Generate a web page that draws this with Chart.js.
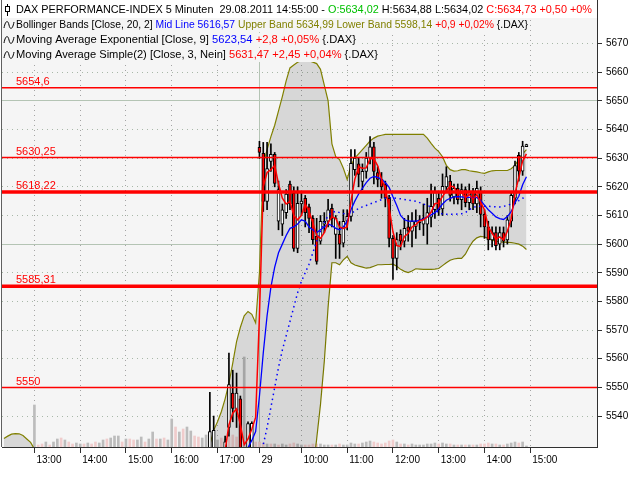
<!DOCTYPE html>
<html>
<head>
<meta charset="utf-8">
<script src="https://cdn.jsdelivr.net/npm/chart.js@4.4.0/dist/chart.umd.min.js"></script>
<style>
    html, body { margin: 0; padding: 0; background: #fff; }
</style>
</head>
<body>
<canvas id="myGraph" width="640" height="480"></canvas>
<script>
// Short name for empty slots
var _ = null;

function none(n) {
    return Array(n).fill(null);
}

// 5 minute slots "HH:MM" from .. to
function fiveMinutes(from, to) {
    var toMin = function (t) { return +t.slice(0, 2) * 60 + +t.slice(3); };
    var pad = function (n) { return (n < 10 ? '0' : '') + n; };
    var out = [];
    for (var m = toMin(from); m <= toMin(to); m += 5) {
        out.push(pad(Math.floor(m / 60)) + ':' + pad(m % 60));
    }
    return out;
}

// Categories: 26.08 afternoon, 29.08 morning, free slots
var dayOne = fiveMinutes('12:20', '17:50');
var dayTwo = fiveMinutes('09:05', '14:55');
var future = fiveMinutes('15:00', '16:25');
var labels = dayOne.concat(dayTwo, future);
var dayBreak = dayOne.length;

// Price axis range
var yMin = 5529.2;
var yMax = 5685.2;

// Horizontal levels
var levels = [5654.6, 5630.25, 5618.22, 5585.31, 5550];

// Candles (first 54 slots are below the visible range)
var open = none(54).concat([5525, 5524, _, _, 5527, 5536,
    5548, 5542, 5546, _, 5527, 5528, _, 5633.8, 5631.7, 5614.9,
    5628.9, 5631.3, 5608, 5607, 5611, 5621, 5617.7, 5598.5, 5614, 5616,
    5613, 5609, 5602.7, 5601, 5607, 5608, 5612.5, 5603.4, 5603.4, 5600.3,
    5608, 5609.7, 5626, 5628, 5621.9, 5625.4, 5630, 5634, 5625, 5622.6,
    5620.8, 5616, 5602, 5595, 5603.4, 5601, 5606, 5604.5, 5606.2, 5607.5,
    5607, 5607, 5609.4, 5612, 5616, 5612.3, 5620, 5622, 5616.5, 5619.5,
    5615.5, 5619, 5614.5, 5618.5, 5614, 5618, 5610.4, 5606, 5601.5, 5604,
    5600, 5604, 5601.5, 5608, 5616, 5631, 5625.5, 5634.02]);

var high = none(54).concat([5548.3, 5540, _, _, 5533, 5562,
    5556, 5555, 5547, _, 5538, 5538, _, 5635.9, 5635.5, 5635.5,
    5635, 5632, 5622, 5614, 5619, 5622, 5620, 5620, 5618, 5617,
    5614, 5610, 5609, 5610, 5611, 5615.6, 5614, 5610, 5607.9, 5612,
    5612, 5633, 5633, 5630, 5628, 5632, 5637.5, 5635.5, 5627, 5625,
    5622, 5617, 5603, 5604, 5605, 5609, 5610, 5611, 5612, 5610,
    5614, 5616, 5621, 5620, 5618, 5624.5, 5627, 5624, 5621, 5621,
    5621, 5620, 5621, 5619.5, 5622, 5620, 5612, 5608, 5606, 5606,
    5606, 5606, 5610, 5618, 5629, 5632, 5635.9, 5634.88]);

var low = none(54).concat([5518, 5520, _, _, 5522, 5533,
    5538, 5536, 5518, _, 5524, 5526, _, 5629.9, 5611.4, 5612,
    5625.4, 5620, 5605, 5603, 5609, 5612, 5597.5, 5597, 5610, 5606,
    5604, 5600, 5593, 5600, 5604, 5606, 5606, 5595, 5595, 5599,
    5605, 5608, 5624, 5620, 5619, 5623, 5628, 5621, 5620, 5616,
    5613, 5599, 5587.7, 5591, 5598, 5599, 5601, 5599, 5602, 5605,
    5603, 5600, 5606, 5609, 5610, 5610, 5618, 5615, 5614, 5614,
    5612, 5613, 5612, 5612, 5611, 5606, 5602, 5598, 5599, 5598,
    5598, 5599, 5600, 5606, 5614, 5622, 5624, 5634.02]);

var close = none(54).concat([5534.6, 5535, _, _, 5531, 5551,
    5542.7, 5548, 5527, _, 5537.4, 5537.5, _, 5632, 5614.9, 5626.4,
    5631.3, 5621.2, 5619, 5612, 5617.5, 5614, 5598.5, 5614.2, 5615, 5611,
    5609, 5601.6, 5594, 5608, 5608, 5612, 5609, 5609, 5600, 5608,
    5609.7, 5628.2, 5630, 5624.3, 5625.4, 5630, 5634, 5625.4, 5622.6, 5620,
    5616, 5602, 5595, 5601.6, 5601, 5605.5, 5604.5, 5608, 5607.9, 5608.5,
    5609, 5611, 5613.2, 5618, 5612, 5620.2, 5623.6, 5617, 5619.5, 5615.5,
    5619, 5614.5, 5618.5, 5614, 5619.5, 5610.4, 5606, 5601.5, 5604, 5599.5,
    5604, 5601, 5608.5, 5617, 5627.38, 5625.45, 5634.23, 5634.73]);

// Bollinger Bands [Close, 20, 2]
var upperBand = [5532.2, 5533.0, 5533.7, 5533.9, 5533.8, 5533.2, 5532.0, 5530.8, 5528.5, 5524]
    .concat(none(43), [5526, 5530, 5535, 5538, 5541.5, 5546, 5551.5,
    5558.5, 5566, 5571, 5575, 5576.5, 5575.5, 5572.5, 5590, 5628, 5633,
    5637.5, 5641.5, 5646.5, 5651.5, 5657, 5661.5, 5662.5, 5663.5, 5664, 5664,
    5664, 5663.5, 5663, 5661, 5655.5, 5650, 5635, 5630.5, 5629.5, 5626.5,
    5622.6, 5627.5, 5630, 5631.5, 5633, 5634.5, 5636, 5637, 5637.7, 5638,
    5638.3, 5638.3, 5638.3, 5638.3, 5638.3, 5638.3, 5638.3, 5638.3, 5638.3, 5638.3,
    5638.3, 5637, 5635.2, 5633.5, 5632.3, 5630.5, 5627.5, 5626, 5625.5, 5625.6,
    5626, 5626, 5625.6, 5625.4, 5625.2, 5624.9, 5624.7, 5625.2, 5625.6, 5625.7,
    5625.7, 5625.7, 5625.7, 5626.3, 5627.5, 5629.6, 5631.5, 5633]);

var lowerBand = [5496, 5495, 5494, 5494, 5494, 5494, 5494, 5494, 5493, 5493]
    .concat(none(43), [5497, 5496, 5495, 5495, 5494, 5493, 5492,
    5490, 5488, 5487, 5486, 5486, 5487, 5488, 5486, 5483, 5481,
    5479, 5478, 5478, 5479, 5481, 5484, 5488, 5493, 5499, 5505,
    5512, 5520, 5532, 5544, 5559, 5578, 5593.5, 5593.5, 5592.8, 5594.5,
    5595.7, 5593.5, 5592.7, 5592.3, 5592, 5591.6, 5591.8, 5592.3, 5592.8, 5592.8,
    5592.9, 5592.9, 5593, 5592.3, 5591.2, 5590.5, 5590.1, 5590.6, 5591.4, 5591.3,
    5591.2, 5591.2, 5591.2, 5591.3, 5591.5, 5592.5, 5593.5, 5594.4, 5594.8, 5595,
    5595, 5596.5, 5599, 5601, 5602.2, 5602.7, 5602.5, 5602, 5601.4, 5601,
    5600.8, 5600.7, 5600.6, 5600.5, 5600.3, 5600, 5599.3, 5598.14]);

var midLine = none(53).concat([5510, 5511, 5512, 5513, 5514, 5515, 5516,
    5517, 5518, 5519, 5520, 5521, 5522, 5523, 5524, 5530, 5536,
    5543, 5550, 5557, 5563, 5568, 5573, 5578, 5583, 5587, 5590,
    5593, 5597, 5601, 5604.5, 5607.5, 5610, 5611, 5611.5, 5611, 5610.7,
    5610.5, 5610.7, 5611.5, 5612.5, 5613, 5613.5, 5614, 5614.5, 5615, 5615.5,
    5616, 5616.2, 5616.2, 5616, 5615.8, 5615.6, 5615.4, 5615.2, 5615, 5614.5,
    5614, 5613.5, 5613, 5612, 5611, 5610.5, 5610.4, 5610.4, 5610.4, 5610.5,
    5610.6, 5611, 5612, 5612.8, 5613.2, 5613.2, 5613.2, 5613.2, 5613.1, 5613,
    5613, 5613.2, 5613.5, 5614, 5614.6, 5615.2, 5616, 5616.57]);

// Moving Average Exponential [Close, 9]
var ema = none(53).concat([5512, 5515, 5518, 5519, 5520, 5521, 5524,
    5525, 5527, 5527, 5527.5, 5529, 5531.5, 5534.6, 5547, 5562, 5575,
    5585, 5592, 5597, 5600, 5603, 5605.5, 5606, 5607, 5608.5, 5608,
    5606, 5605, 5604, 5605, 5606, 5607, 5606.5, 5605.5, 5605, 5606,
    5608, 5612, 5615, 5617.5, 5619.5, 5621.5, 5623, 5623.6, 5623.3, 5622.6,
    5621.5, 5619.8, 5616.5, 5613.5, 5610, 5608.5, 5608, 5608, 5608, 5608.3,
    5608.8, 5609.5, 5610.2, 5611, 5612.3, 5614, 5615.3, 5616, 5616.5, 5616.6,
    5616.5, 5616.3, 5616.3, 5616.2, 5616.3, 5615.2, 5613.6, 5612, 5610.8, 5609.5,
    5608.9, 5608.6, 5609.6, 5611.3, 5614.5, 5616.7, 5620.74, 5623.54]);

// Moving Average Simple(2) [Close, 3]
var sma = none(53).concat([5520, 5522, 5524, 5525, 5526, 5528, 5537,
    5541, 5542.5, 5537, 5530, 5532, 5535.5, 5539.5, 5575, 5620, 5625,
    5626, 5627.5, 5621, 5616, 5614, 5615, 5610, 5608.5, 5610, 5614,
    5611.5, 5607.5, 5603, 5602, 5604, 5607.5, 5609.5, 5609, 5606, 5605.5,
    5606, 5615, 5622.6, 5627, 5626.5, 5626.6, 5629.8, 5629.8, 5627.3, 5622.7,
    5619.5, 5612.7, 5604.3, 5599.5, 5599.2, 5602.7, 5603.7, 5606, 5606.8, 5608.1,
    5608.5, 5609.5, 5611.1, 5614.1, 5614.4, 5616.7, 5618.6, 5620.3, 5620, 5617.3,
    5618, 5616.3, 5617.3, 5615.7, 5617.3, 5614.6, 5612, 5606, 5603.8, 5601.7,
    5602.5, 5601.5, 5604.5, 5608.8, 5617.6, 5623.3, 5629.0, 5631.47]);

// Volume, up and down bars (relative height)
var volUp = [_, _, _, _, _, _, _, _, 42, _,
    _, 5, _, 5, 8, _, 7, _, _, 4,
    3, _, 4, _, _, 4, 7, _, 9, 11,
    11, _, 8, _, _, 7, 10, _, 8, 15,
    _, 8, _, 7, 28, _, 15, _, 20, 16,
    _, _, 9, 12, 14, 10, 7, _, 8, _,
    _, _, _, 90, 12, 8, _, _, _, 3,
    _, 3, _, 3, 2, _, _, 3, 2, _,
    _, _, _, 3, 2, 2, _, 2, _, 2,
    2, 4, 3, _, 4, 5, 6, _, _, _,
    _, _, _, 5, _, 3, _, 3, 2, 2,
    2, 3, 3, 4, _, 4, 3, _, 2, _,
    2, _, 2, _, 2, _, _, _, 3, _,
    2, _, 3, 4, 5, _, 5, 1];

var volDown = [_, _, _, _, _, _, _, _, _, 2,
    3, _, 2, _, _, 9, _, 5, 3, _,
    _, 3, _, 3, 5, _, _, 8, _, _,
    _, 5, _, 8, 7, _, _, 5, _, _,
    8, _, 9, _, _, 20, _, 18, _, _,
    11, 10, _, _, _, _, _, 9, _, 10,
    12, 10, 8, _, _, _, 5, 5, 4, _,
    3, _, 2, _, _, 3, 4, _, _, 2,
    2, 3, 3, _, _, _, 2, _, 3, _,
    _, _, _, 3, _, _, _, 5, 4, 3,
    4, 6, 7, _, 3, _, 2, _, _, _,
    _, _, _, _, 3, _, _, 3, _, 2,
    _, 2, _, 2, _, 3, 3, 4, _, 3,
    _, 2, _, _, _, 4, _, _];

// Header lines: [text, colour]
var header = [
    [['DAX PERFORMANCE-INDEX 5 Minuten  29.08.2011 14:55:00 - ', '#000'], ['O:5634,02 ', '#00c000'],
     ['H:5634,88 L:5634,02 ', '#000'], ['C:5634,73 +0,50 +0%', '#ff0000']],
    [['Bollinger Bands [Close, 20, 2] ', '#000'], ['Mid Line 5616,57 ', '#0000ff'],
     ['Upper Band 5634,99 Lower Band 5598,14 ', '#808000'], ['+0,9 +0,02% ', '#ff0000'], ['{.DAX}', '#000']],
    [['Moving Average Exponential [Close, 9] ', '#000'], ['5623,54 ', '#0000ff'],
     ['+2,8 +0,05% ', '#ff0000'], ['{.DAX}', '#000']],
    [['Moving Average Simple(2) [Close, 3, Nein] ', '#000'], ['5631,47 +2,45 +0,04% ', '#ff0000'],
     ['{.DAX}', '#000']]
];

// Styles
var levelWidths = [1.5, 1.5, 3.5, 3.5, 1.5];
var textFont = '11px "Liberation Sans", Arial, sans-serif';
var headerY = [10, 25, 40, 55];
var headerWidths = [576, 512, 340, 362];
var clear = 'rgba(0,0,0,0)';

// Label for an x tick, or '' when none
var xTickText = function (i) {
    if (i === dayBreak) return '29';
    if (i > labels.length - 8) return '';
    return labels[i].slice(3) === '00' ? labels[i] : '';
};

var yShown = function (v) {
    return v >= 5535 && v <= 5675;
};

// Background, level lines and header text
var frame = {
    id: 'frame',
    beforeDraw: function (chart) {
        var c = chart.ctx, a = chart.chartArea;
        c.save();
        c.fillStyle = '#fff';
        c.fillRect(0, 0, chart.width, chart.height);
        c.fillStyle = '#f5f5f5';
        c.fillRect(a.left, a.top, a.right - a.left, a.bottom - a.top);
        c.restore();
    },
    afterDatasetsDraw: function (chart) {
        var c = chart.ctx, a = chart.chartArea, y = chart.scales.y;
        c.save();
        c.font = textFont;
        c.textBaseline = 'alphabetic';
        levels.forEach(function (v, i) {
            var py = y.getPixelForValue(v);
            c.strokeStyle = '#ff0000';
            c.lineWidth = levelWidths[i];
            c.beginPath();
            c.moveTo(a.left, py);
            c.lineTo(a.right, py);
            c.stroke();
            c.fillStyle = '#ff0000';
            c.fillText(String(v).replace('.', ','), 16, py - levelWidths[i] / 2 - 1.5);
        });
        c.restore();
    },
    afterDraw: function (chart) {
        var c = chart.ctx, a = chart.chartArea;
        c.save();
        c.font = textFont;
        c.textBaseline = 'middle';
        header.forEach(function (row, r) {
            var py = headerY[r];
            var w = row.reduce(function (s, seg) { return s + c.measureText(seg[0]).width; }, 0);
            var sx = headerWidths[r] / w;
            c.fillStyle = r === 0 ? '#fff' : '#f5f5f5';
            if (r === 0) c.fillRect(a.left, 0, a.right - a.left, 18);
            else c.fillRect(a.left, py - 7, 16 + headerWidths[r] + 2 - a.left, 14);

            // Icon
            c.strokeStyle = '#000';
            c.lineWidth = 1;
            c.beginPath();
            if (r === 0) {
                c.moveTo(7.5, py - 6);
                c.lineTo(7.5, py + 6);
                c.stroke();
                c.fillStyle = '#fff';
                c.fillRect(5.5, py - 3.5, 4, 5);
                c.strokeRect(5.5, py - 3.5, 4, 5);
            } else {
                c.moveTo(4, py + 3);
                c.bezierCurveTo(5.5, py - 5, 8, py - 5, 9, py);
                c.bezierCurveTo(10, py + 5, 12.5, py + 5, 14, py - 3);
                c.stroke();
            }

            // Text pieces, fitted to the width of the original line
            c.save();
            c.translate(16, 0);
            c.scale(sx, 1);
            var x = 0;
            row.forEach(function (seg) {
                c.fillStyle = seg[1];
                c.fillText(seg[0], x, py);
                x += c.measureText(seg[0]).width;
            });
            c.restore();
        });

        // Left frame line
        c.strokeStyle = '#606060';
        c.lineWidth = 1;
        c.beginPath();
        c.moveTo(a.left - 0.5, 0);
        c.lineTo(a.left - 0.5, a.bottom);
        c.stroke();
        c.restore();
    }
};

// Candle bodies and wicks as floating bars
var bodies = open.map(function (o, i) { return o === null ? null : [o, close[i]]; });
var wicks = low.map(function (l, i) { return l === null ? null : [l, high[i]]; });

var ctx = document.getElementById('myGraph').getContext('2d');

var chart = new Chart(ctx, {
    type: 'bar',
    data: {
        labels: labels,
        datasets: [
            {
                type: 'line', label: 'SMA', data: sma, order: 0,
                borderColor: '#ff0000', borderWidth: 1.5, pointRadius: 0, fill: false
            },
            {
                type: 'line', label: 'EMA', data: ema, order: 1,
                borderColor: '#0000ff', borderWidth: 1.3, pointRadius: 0, fill: false
            },
            {
                type: 'line', label: 'Mid Line', data: midLine, order: 2,
                borderColor: '#0000ff', borderWidth: 1.5, borderDash: [1.5, 3.5], pointRadius: 0, fill: false
            },
            {
                label: 'Body', data: bodies, order: 3, grouped: false, barThickness: 3,
                backgroundColor: function (c) {
                    var i = c.dataIndex;
                    return close[i] < open[i] ? '#ff0000' : '#ffffff';
                },
                borderColor: '#000', borderWidth: 1, borderSkipped: false
            },
            {
                label: 'Wick', data: wicks, order: 4, grouped: false, barThickness: 1,
                backgroundColor: '#000', borderWidth: 0
            },
            {
                type: 'line', label: 'Upper Band', data: upperBand, order: 5,
                borderColor: '#808000', borderWidth: 1.2, pointRadius: 0,
                fill: '+1', backgroundColor: 'rgba(0,0,0,0.12)'
            },
            {
                type: 'line', label: 'Lower Band', data: lowerBand, order: 6,
                borderColor: '#808000', borderWidth: 1.2, pointRadius: 0, fill: false
            },
            {
                label: 'Volume up', data: volUp, order: 7, yAxisID: 'yv', grouped: false,
                barThickness: 2, backgroundColor: '#bcbcbc', borderWidth: 0
            },
            {
                label: 'Volume down', data: volDown, order: 8, yAxisID: 'yv', grouped: false,
                barThickness: 2, backgroundColor: '#f0cccc', borderWidth: 0
            }
        ]
    },
    options: {
        responsive: false,
        animation: false,
        devicePixelRatio: 1,
        events: [],
        layout: { padding: { left: 2, top: 0, right: 0, bottom: 0 } },
        plugins: { legend: { display: false }, tooltip: { enabled: false } },
        scales: {
            x: {
                offset: true,
                afterFit: function (s) { s.height = 33; },
                grid: {
                    offset: false,
                    tickLength: 6,
                    color: function (c) {
                        if (c.type !== 'tick') return clear;
                        if (c.index === dayBreak) return '#b4c4b4';
                        return xTickText(c.index) ? '#a4a4a4' : clear;
                    },
                    tickColor: function (c) {
                        return xTickText(c.index) ? '#303030' : clear;
                    }
                },
                border: {
                    color: '#303030',
                    dash: function (c) {
                        return c.type === 'tick' && c.index !== dayBreak ? [1, 4] : [];
                    }
                },
                ticks: {
                    autoSkip: false,
                    maxRotation: 0,
                    align: 'start',
                    labelOffset: 2,
                    padding: 1,
                    color: '#000',
                    font: { family: 'Liberation Sans', size: 10 },
                    callback: function (v, i) { return xTickText(i); }
                }
            },
            y: {
                position: 'right',
                min: yMin,
                max: yMax,
                afterFit: function (s) {
                    s.width = 43;
                    s.paddingTop = 0;
                    s.paddingBottom = 0;
                },
                grid: {
                    tickLength: 5,
                    color: function (c) {
                        if (c.type !== 'tick' || !yShown(c.tick.value)) return clear;
                        return c.tick.value % 50 === 0 ? '#b4c4b4' : '#a8b8a8';
                    },
                    tickColor: function (c) {
                        return c.tick && yShown(c.tick.value) ? '#303030' : clear;
                    }
                },
                border: {
                    color: '#303030',
                    dash: function (c) {
                        return c.type === 'tick' && c.tick.value % 50 !== 0 ? [1, 4] : [];
                    }
                },
                ticks: {
                    stepSize: 10,
                    includeBounds: false,
                    padding: 4,
                    color: '#000',
                    font: { family: 'Liberation Sans', size: 10 },
                    callback: function (v) { return yShown(v) ? String(v) : ''; }
                }
            },
            yv: {
                display: false,
                min: 0,
                max: 447
            }
        }
    },
    plugins: [frame]
});
</script>
</body>
</html>
